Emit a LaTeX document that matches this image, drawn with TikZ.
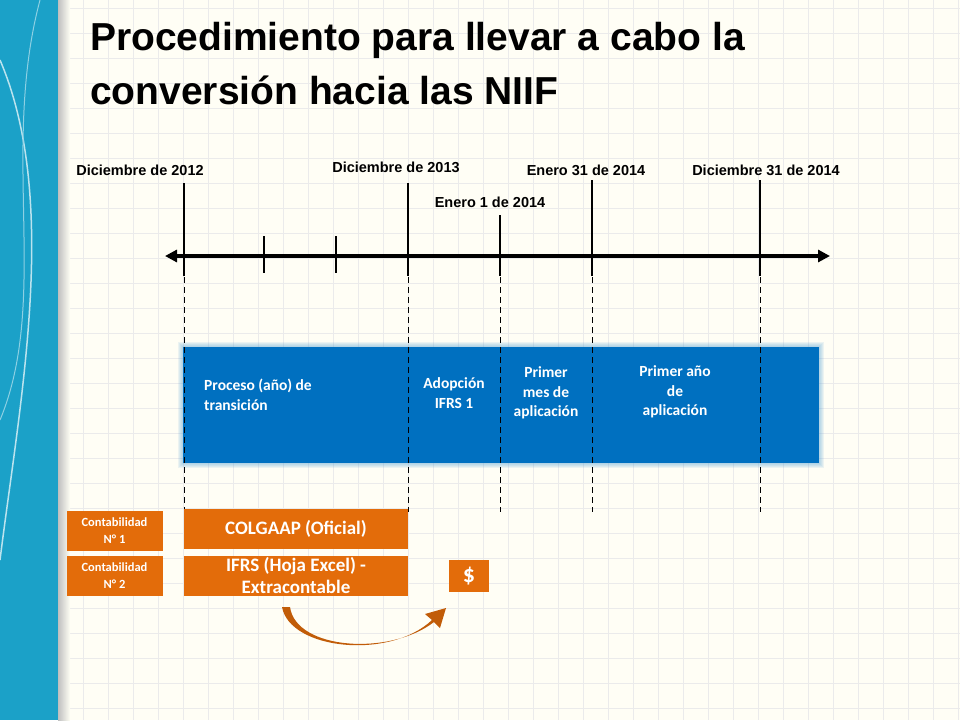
\documentclass[tikz,border=0pt]{standalone}
\usepackage{fontspec}
\setmainfont{Liberation Sans}
\newfontfamily\carlitofont{Carlito}
\usetikzlibrary{arrows.meta}
\definecolor{bluebox}{HTML}{0070C0}
\definecolor{orng}{HTML}{E36C0A}
\definecolor{strip}{HTML}{1BA1C8}
\tikzset{
 tick/.style={line width=2.6pt},
 dsh/.style={dashed,line width=1pt,dash pattern=on 6pt off 4pt},
 datelbl/.style={font=\bfseries\fontsize{14.5}{16}\selectfont,inner sep=0pt},
 blbl/.style={font=\carlitofont\bfseries\fontsize{15.5}{19.5}\selectfont,text=white,align=center,inner sep=0pt},
 obox/.style={fill=orng,text=white,font=\carlitofont\bfseries,align=center,inner sep=0pt}
}
\begin{document}
\begin{tikzpicture}[x=1pt,y=-1pt]
\useasboundingbox (0,0) rectangle (960,720);
\fill[white!96!yellow] (0,0) rectangle (960,720);
\foreach \i in {0,...,38} \draw[black!8,line width=0.6pt] (58+25*\i,0) -- (58+25*\i,720);
\foreach \i in {0,...,29} \draw[black!8,line width=0.6pt] (58,8+25*\i) -- (960,8+25*\i);
\fill[strip] (0,0) rectangle (58,720);
\shade[left color=black!25,right color=white!96!yellow] (58,0) rectangle (70,720);
\draw[white!70!strip,line width=1.5pt] (0,60) .. controls (60,200) and (20,400) .. (0,560);
\draw[white!50!strip,line width=1pt] (40,0) .. controls (0,150) and (50,300) .. (0,420);
\node[anchor=north west,align=left,font=\bfseries\fontsize{39}{54}\selectfont,inner sep=0pt] (title) at (90,22) {Procedimiento para llevar a cabo la\\conversión hacia las NIIF};
\draw[line width=3.5pt,{Triangle[length=12pt,width=12pt]}-{Triangle[length=12pt,width=12pt]}] (165,256) coordinate (L) -- (830,256) coordinate (R);
\foreach \x/\t in {184/183,408/183,500/215,592/180,760/180} \draw[tick] (\x,\t) -- (\x,276);
\foreach \x in {264,336} \draw[tick] (\x,236) -- (\x,273);
\node[datelbl] (d1) at (140,170) {Diciembre de 2012};
\node[datelbl] (d2) at (396,167) {Diciembre de 2013};
\node[datelbl] (d3) at (490,202) {Enero 1 de 2014};
\node[datelbl] (d4) at (586,170) {Enero 31 de 2014};
\node[datelbl] (d5) at (766,170) {Diciembre 31 de 2014};
\foreach \k in {1,...,5} \fill[bluebox!60,opacity=0.12] (183-\k,347-\k) rectangle (819+\k,463+\k);
\fill[bluebox] (183,347) rectangle (819,463);
\foreach \x in {184,408,500,592,760} \draw[dsh] (\x,277) -- (\x,512);
\node[blbl,anchor=west,align=left] (p1) at (204,395) {Proceso (año) de\\transición};
\node[blbl] (p2) at (454,393) {Adopción\\IFRS 1};
\node[blbl] (p3) at (546,393) {Primer\\mes de\\aplicación};
\node[blbl] (p4) at (675,392) {Primer año\\de\\aplicación};
\node[obox,minimum width=96pt,minimum height=40pt,font=\carlitofont\bfseries\fontsize{12.5}{17}\selectfont] (c1) at (114.5,531) {Contabilidad\\N° 1};
\node[obox,minimum width=96pt,minimum height=40pt,font=\carlitofont\bfseries\fontsize{12.5}{17}\selectfont] (c2) at (114.5,576) {Contabilidad\\N° 2};
\node[obox,minimum width=224pt,minimum height=40pt,font=\carlitofont\bfseries\fontsize{19}{22}\selectfont] (g1) at (296,529) {COLGAAP (Oficial)};
\node[obox,minimum width=224pt,minimum height=40pt,font=\carlitofont\bfseries\fontsize{19}{22}\selectfont] (g2) at (296,576) {IFRS (Hoja Excel) -\\Extracontable};
\node[obox,minimum width=40pt,minimum height=32pt,font=\carlitofont\bfseries\fontsize{24}{26}\selectfont] (dol) at (469,576) {\$};
\fill[orng!85!black] (282,607) .. controls (290,650) and (390,660) .. (432,620) -- (425,614) -- (446,608) -- (440,628) -- (434,622) .. controls (390,656) and (296,650) .. (290,607) -- cycle;
\end{tikzpicture}
\end{document}
